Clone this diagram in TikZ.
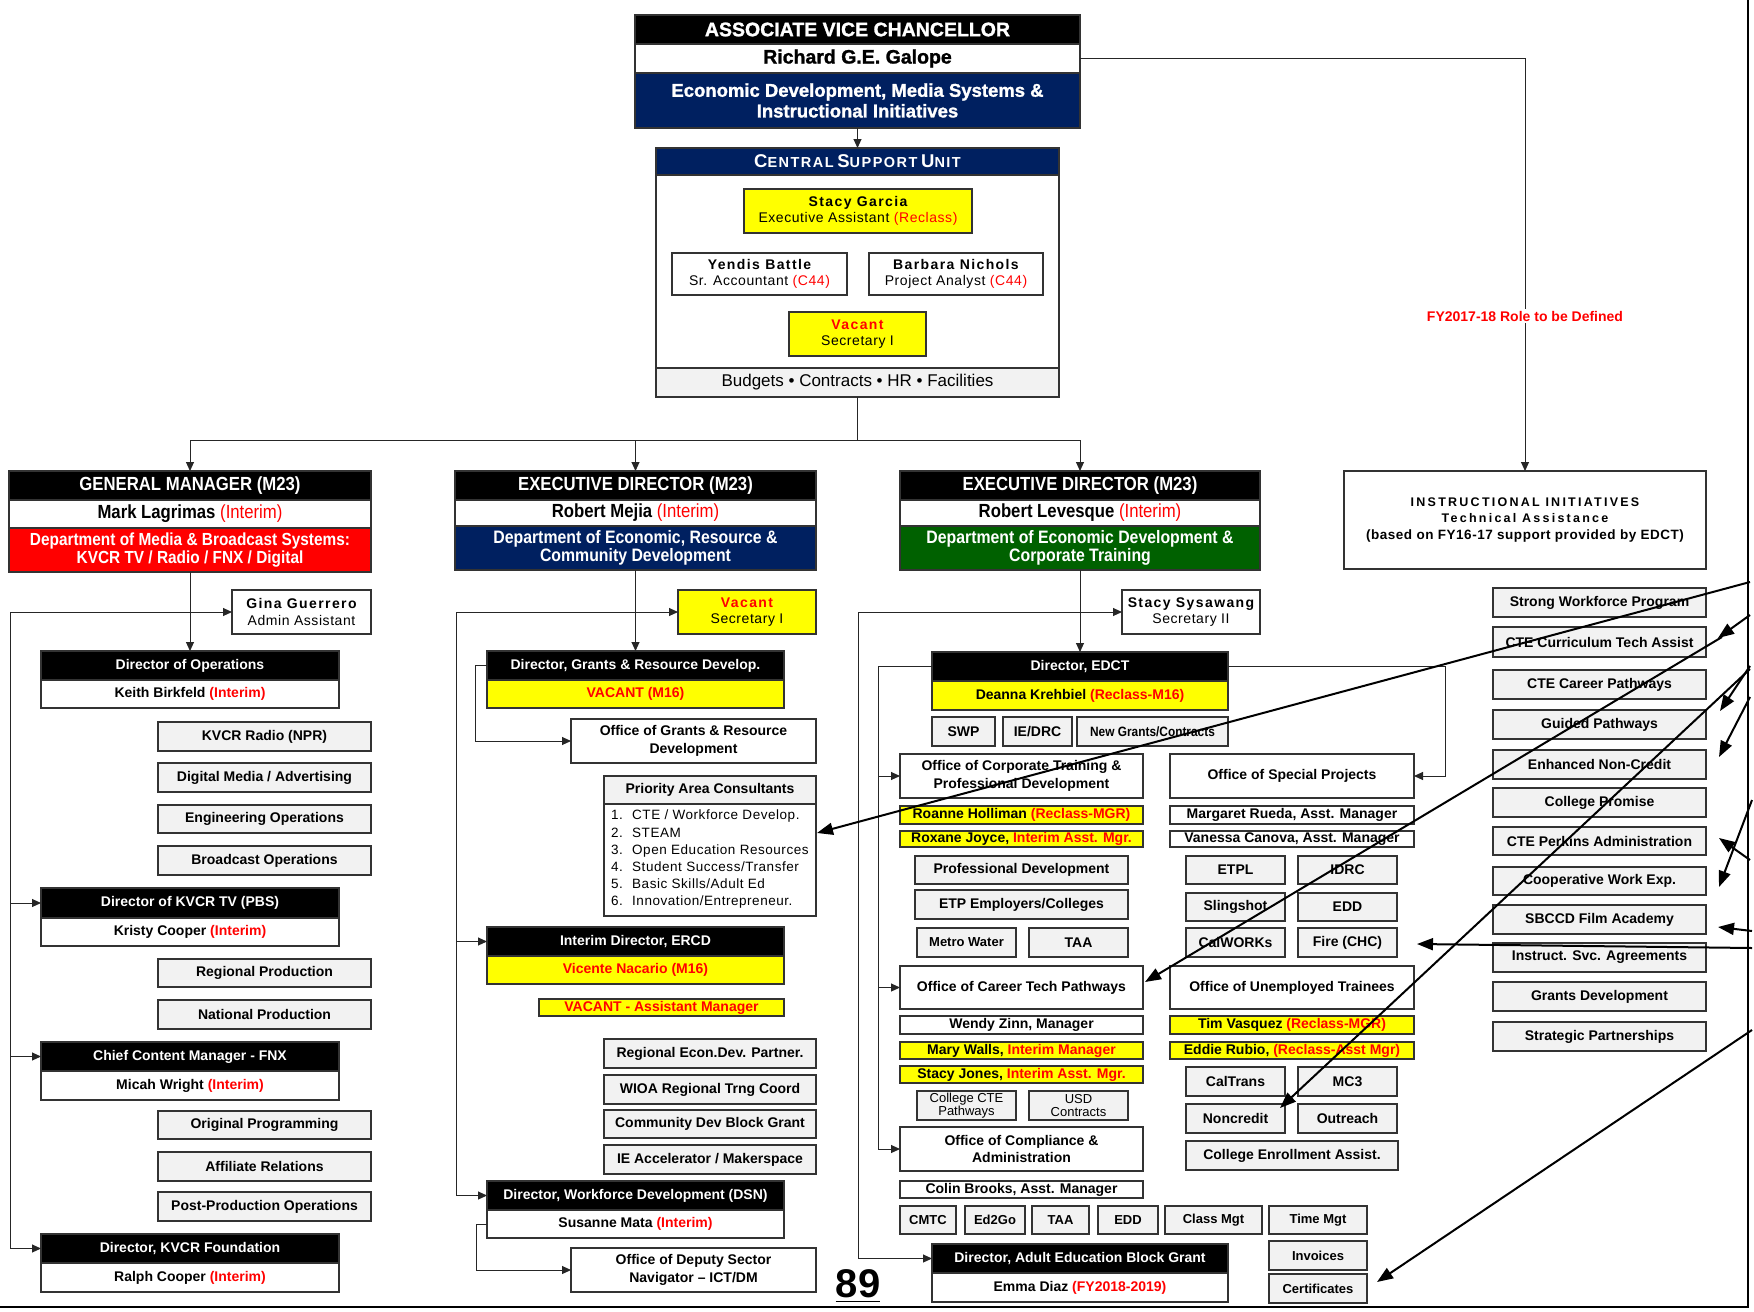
\documentclass[tikz,border=0pt]{standalone}
\usepackage{fontspec}
\setmainfont{Liberation Sans}
\newfontfamily\narf[FakeStretch=0.88]{Liberation Sans}
\newfontfamily\wsp[LetterSpace=18]{Liberation Sans}
\newfontfamily\nsp[LetterSpace=10]{Liberation Sans}
\newfontfamily\tsp[LetterSpace=4]{Liberation Sans}
\newfontfamily\hvy[FakeBold=1.3]{Liberation Sans Bold}
\usetikzlibrary{arrows.meta}
\definecolor{navy}{RGB}{0,32,96}
\definecolor{dgreen}{RGB}{0,97,0}
\definecolor{gfill}{RGB}{242,242,242}
\definecolor{ylw}{RGB}{255,255,0}
\definecolor{rred}{RGB}{255,0,0}
\newcommand\redx[1]{\textcolor{rred}{#1}}
\newcommand\obox[7]{%
 \pgfmathsetmacro\obw{#5-#3}\pgfmathsetmacro\obh{#6-#4}%
 \pgfmathsetmacro\obx{(#3+#5)/2}\pgfmathsetmacro\oby{(#4+#6)/2}%
 \node[#1, minimum width=\obw pt, minimum height=\obh pt] (#2) at (\obx,\oby) {#7};}
\newcommand\scx[2]{{\fontsize{18.5}{20}\selectfont #1}{\fontsize{14.5}{20}\selectfont #2}}
\tikzset{
 bx/.style={draw=black!80, line width=1.1pt, inner sep=0pt, outer sep=0pt, align=center, text=black},
 blk/.style={bx, fill=black, text=white},
 wht/.style={bx, fill=white},
 ylb/.style={bx, fill=ylw},
 gry/.style={bx, fill=gfill},
 nvy/.style={bx, fill=navy, text=white},
 rdb/.style={bx, fill=rred, text=white},
 grn/.style={bx, fill=dgreen, text=white},
 f14/.style={font=\fontsize{14}{17.5}\selectfont\bfseries},
 f13/.style={font=\fontsize{13}{15}\selectfont\bfseries},
 topf/.style={font=\narf\fontsize{19}{20}\selectfont\bfseries},
 deptf/.style={font=\narf\fontsize{18}{18}\selectfont\bfseries},
 cssf/.style={font=\fontsize{14}{16.7}\selectfont},
 conn/.style={draw=black!85, line width=1pt},
 arr/.style={conn, -{Triangle[length=9pt,width=8pt]}},
 dia/.style={draw=black, line width=2pt, -{Triangle[length=16pt,width=12pt]}},
}
\begin{document}
\begin{tikzpicture}[x=1pt,y=-1pt]
\useasboundingbox[fill=white] (0,0) rectangle (1754,1312);
% ---------- top ----------
\obox{blk,font=\hvy\fontsize{19.5}{21}\selectfont}{avc}{635}{15}{1080}{44}{ASSOCIATE VICE CHANCELLOR}
\obox{wht,font=\hvy\fontsize{19.5}{21}\selectfont}{avcn}{635}{44}{1080}{73}{Richard G.E. Galope}
\obox{nvy,font=\hvy\fontsize{18.5}{20.7}\selectfont}{avcd}{635}{73}{1080}{128}{Economic Development, Media Systems \&\\Instructional Initiatives}
% central support unit
\obox{wht}{csu}{656}{148}{1059}{397}{}
\obox{nvy,font=\nsp\bfseries}{csuh}{656}{148}{1059}{175}{\scx{C}{ENTRAL} \scx{S}{UPPORT} \scx{U}{NIT}}
\obox{gry,font=\fontsize{17}{18}\selectfont}{csuf}{656}{368}{1059}{397}{Budgets • Contracts • HR • Facilities}
\obox{ylb,cssf}{sg}{744}{189}{972}{233}{{\nsp\bfseries Stacy Garcia}\\{\tsp Executive Assistant  \redx{(Reclass)}}}
\obox{wht,cssf}{yb}{672}{253}{847}{295}{{\nsp\bfseries Yendis Battle}\\{\tsp Sr. Accountant  \redx{(C44)}}}
\obox{wht,cssf}{bn}{869}{253}{1043}{295}{{\nsp\bfseries Barbara Nichols}\\{\tsp Project Analyst  \redx{(C44)}}}
\obox{ylb,cssf}{vs1}{789}{312}{926}{356}{{\nsp\bfseries\redx{Vacant}}\\{\tsp Secretary I}}
% ---------- left column ----------
\obox{blk,topf}{gmh}{9}{471}{371}{500}{GENERAL MANAGER (M23)}
\obox{wht,topf}{gmn}{9}{500}{371}{528}{Mark Lagrimas \redx{\mdseries(Interim)}}
\obox{rdb,font=\narf\fontsize{17.5}{17.3}\selectfont\bfseries}{gmd}{9}{528}{371}{572}{Department of Media \& Broadcast Systems:\\KVCR TV / Radio / FNX / Digital}
\obox{wht,cssf}{gina}{232}{590}{371}{634}{{\nsp\bfseries Gina Guerrero}\\{\tsp Admin Assistant}}
\obox{blk,f14}{dopsh}{41}{651}{339}{680}{Director of Operations}
\obox{wht,f14}{dopsn}{41}{680}{339}{708}{Keith Birkfeld \redx{(Interim)}}
\obox{gry,f14}{l1}{158}{722}{371}{751}{KVCR Radio (NPR)}
\obox{gry,f14}{l2}{158}{763}{371}{792}{Digital Media / Advertising}
\obox{gry,f14}{l3}{158}{805}{371}{833}{Engineering Operations}
\obox{gry,f14}{l4}{158}{846}{371}{875}{Broadcast Operations}
\obox{blk,f14}{tvh}{41}{888}{339}{918}{Director of KVCR TV (PBS)}
\obox{wht,f14}{tvn}{41}{918}{339}{946}{Kristy Cooper \redx{(Interim)}}
\obox{gry,f14}{l5}{158}{959}{371}{987}{Regional Production}
\obox{gry,f14}{l6}{158}{1000}{371}{1029}{National Production}
\obox{blk,f14}{fnxh}{41}{1042}{339}{1071}{Chief Content Manager - FNX}
\obox{wht,f14}{fnxn}{41}{1071}{339}{1100}{Micah Wright \redx{(Interim)}}
\obox{gry,f14}{l7}{158}{1111}{371}{1139}{Original Programming}
\obox{gry,f14}{l8}{158}{1152}{371}{1181}{Affiliate Relations}
\obox{gry,f14}{l9}{158}{1192}{371}{1221}{Post-Production Operations}
\obox{blk,f14}{fdh}{41}{1234}{339}{1263}{Director, KVCR Foundation}
\obox{wht,f14}{fdn}{41}{1263}{339}{1292}{Ralph Cooper \redx{(Interim)}}
% ---------- middle column ----------
\obox{blk,topf}{edmh}{455}{471}{816}{500}{EXECUTIVE DIRECTOR (M23)}
\obox{wht,topf}{edmn}{455}{500}{816}{526}{Robert Mejia \redx{\mdseries(Interim)}}
\obox{nvy,deptf}{edmd}{455}{526}{816}{570}{Department of Economic, Resource \&\\Community Development}
\obox{ylb,cssf}{vsm}{678}{590}{816}{634}{{\nsp\bfseries\redx{Vacant}}\\{\tsp Secretary I}}
\obox{blk,f14}{dgh}{487}{651}{784}{680}{Director, Grants \& Resource Develop.}
\obox{ylb,f14}{dgn}{487}{680}{784}{708}{\redx{VACANT  (M16)}}
\obox{wht,f14}{ogr}{571}{719}{816}{763}{Office of Grants \& Resource\\Development}
\obox{wht}{pac}{604}{776}{816}{916}{}
\obox{gry,f14}{pach}{604}{776}{816}{804}{Priority Area Consultants}
\node[anchor=north west, inner sep=0pt, align=left, font=\tsp\fontsize{13.5}{17.2}\selectfont] (pacl) at (611,810)
 {\makebox[21pt][l]{1.}CTE / Workforce Develop.\\\makebox[21pt][l]{2.}STEAM\\\makebox[21pt][l]{3.}Open Education Resources\\\makebox[21pt][l]{4.}Student Success/Transfer\\\makebox[21pt][l]{5.}Basic Skills/Adult Ed\\\makebox[21pt][l]{6.}Innovation/Entrepreneur.};
\obox{blk,f14}{ercdh}{487}{927}{784}{956}{Interim Director, ERCD}
\obox{ylb,f14}{ercdn}{487}{956}{784}{984}{\redx{Vicente Nacario (M16)}}
\obox{ylb,f14}{vam}{539}{999}{784}{1016}{\redx{VACANT - Assistant Manager}}
\obox{gry,f14}{m1}{604}{1039}{816}{1068}{Regional Econ.Dev. Partner.}
\obox{gry,f14}{m2}{604}{1075}{816}{1104}{WIOA Regional Trng Coord}
\obox{gry,f14}{m3}{604}{1110}{816}{1138}{Community Dev Block Grant}
\obox{gry,f14}{m4}{604}{1145}{816}{1174}{IE Accelerator / Makerspace}
\obox{blk,f14}{wfh}{487}{1181}{784}{1210}{Director, Workforce Development (DSN)}
\obox{wht,f14}{wfn}{487}{1210}{784}{1238}{Susanne Mata  \redx{(Interim)}}
\obox{wht,f14}{odsn}{571}{1248}{816}{1292}{Office of Deputy Sector\\Navigator – ICT/DM}
\node[inner sep=0pt, font=\fontsize{40}{40}\selectfont\bfseries] (pg) at (858,1284) {89};
\draw[line width=1.3pt] ([yshift=-3pt]pg.south west) -- ([yshift=-3pt]pg.south east);
% ---------- right-center column ----------
\obox{blk,topf}{ed2h}{900}{471}{1260}{500}{EXECUTIVE DIRECTOR (M23)}
\obox{wht,topf}{ed2n}{900}{500}{1260}{526}{Robert Levesque \redx{\mdseries(Interim)}}
\obox{grn,deptf}{ed2d}{900}{526}{1260}{570}{Department of Economic Development \&\\Corporate Training}
\obox{wht,cssf}{sys}{1122}{590}{1260}{634}{{\nsp\bfseries Stacy Sysawang}\\{\tsp Secretary II}}
\obox{blk,f14}{edcth}{932}{652}{1228}{681}{Director, EDCT}
\obox{ylb,f14}{edctn}{932}{681}{1228}{710}{Deanna Krehbiel  \redx{(Reclass-M16)}}
\obox{gry,f14}{swp}{932}{717}{995}{746}{SWP}
\obox{gry,f14}{iedrc}{1003}{717}{1072}{746}{IE/DRC}
\obox{gry,font=\narf\fontsize{13.5}{15}\selectfont\bfseries}{ngc}{1077}{717}{1228}{746}{New Grants/Contracts}
\obox{wht,f14}{oct}{900}{754}{1143}{798}{Office of Corporate Training \&\\Professional Development}
\obox{wht,f14}{osp}{1170}{754}{1414}{798}{Office of Special Projects}
\obox{ylb,f14}{roan}{900}{806}{1143}{824}{Roanne Holliman  \redx{(Reclass-MGR)}}
\obox{ylb,f14}{roxa}{900}{831}{1143}{847}{Roxane Joyce, \redx{Interim Asst. Mgr.}}
\obox{wht,f14}{marg}{1170}{806}{1414}{824}{Margaret Rueda, Asst. Manager}
\obox{wht,f14}{vane}{1170}{831}{1414}{847}{Vanessa Canova, Asst. Manager}
\obox{gry,f14}{pdv}{915}{856}{1128}{884}{Professional Development}
\obox{gry,f14}{etp}{915}{890}{1128}{919}{ETP Employers/Colleges}
\obox{gry,f13}{mwt}{917}{928}{1016}{957}{Metro Water}
\obox{gry,f14}{taa1}{1029}{928}{1128}{957}{TAA}
\obox{gry,f14}{etpl}{1186}{856}{1285}{884}{ETPL}
\obox{gry,f14}{idrc}{1298}{856}{1397}{884}{IDRC}
\obox{gry,f14}{slg}{1186}{893}{1285}{921}{Slingshot}
\obox{gry,f14}{edd1}{1298}{893}{1397}{921}{EDD}
\obox{gry,f14}{calw}{1186}{928}{1285}{957}{CalWORKs}
\obox{gry,f14}{fire}{1298}{928}{1397}{957}{Fire (CHC)}
\obox{wht,f14}{ocp}{900}{966}{1143}{1009}{Office of Career Tech Pathways}
\obox{wht,f14}{out}{1170}{966}{1414}{1009}{Office of Unemployed Trainees}
\obox{wht,f14}{wz}{900}{1016}{1143}{1034}{Wendy Zinn, Manager}
\obox{ylb,f14}{mw}{900}{1042}{1143}{1059}{Mary Walls, \redx{Interim Manager}}
\obox{ylb,f14}{sj}{900}{1066}{1143}{1083}{Stacy Jones, \redx{Interim Asst. Mgr.}}
\obox{ylb,f14}{tv}{1170}{1016}{1414}{1034}{Tim Vasquez  \redx{(Reclass-MGR)}}
\obox{ylb,f14}{er}{1170}{1042}{1414}{1059}{Eddie Rubio, \redx{(Reclass-Asst Mgr)}}
\obox{gry,font=\fontsize{13}{13.5}\selectfont}{ccte}{917}{1091}{1016}{1120}{College CTE\\Pathways}
\obox{gry,font=\fontsize{13}{13.5}\selectfont}{usd}{1029}{1091}{1128}{1120}{USD\\Contracts}
\obox{gry,f14}{calt}{1186}{1067}{1285}{1096}{CalTrans}
\obox{gry,f14}{mc3}{1298}{1067}{1397}{1096}{MC3}
\obox{gry,f14}{ncr}{1186}{1104}{1285}{1133}{Noncredit}
\obox{gry,f14}{outr}{1298}{1104}{1397}{1133}{Outreach}
\obox{gry,f14}{cea}{1186}{1141}{1398}{1170}{College Enrollment Assist.}
\obox{wht,f14}{cmp}{900}{1127}{1143}{1171}{Office of Compliance \&\\Administration}
\obox{wht,f14}{cb}{900}{1181}{1143}{1198}{Colin Brooks, Asst. Manager}
\obox{gry,f13}{cmtc}{900}{1206}{956}{1234}{CMTC}
\obox{gry,f13}{ed2go}{965}{1206}{1025}{1234}{Ed2Go}
\obox{gry,f13}{taa2}{1032}{1206}{1089}{1234}{TAA}
\obox{gry,f13}{edd2}{1098}{1206}{1158}{1234}{EDD}
\obox{gry,f13}{clm}{1165}{1206}{1262}{1234}{Class Mgt}
\obox{gry,f13}{tmm}{1269}{1206}{1367}{1234}{Time Mgt}
\obox{gry,f13}{inv}{1269}{1241}{1367}{1270}{Invoices}
\obox{gry,f13}{cert}{1269}{1274}{1367}{1303}{Certificates}
\obox{blk,f14}{aebh}{932}{1244}{1228}{1273}{Director, Adult Education Block Grant}
\obox{wht,f14}{aebn}{932}{1273}{1228}{1302}{Emma Diaz \redx{(FY2018-2019)}}
% ---------- right column ----------
\obox{wht,font=\fontsize{12.5}{16.5}\selectfont\bfseries}{ii}{1344}{471}{1706}{569}{{\wsp INSTRUCTIONAL INITIATIVES}\\{\wsp Technical Assistance}\\{\tsp\fontsize{13.5}{16.5}\selectfont (based on FY16-17 support provided by EDCT)}}
\obox{gry,f14}{r1}{1493}{588}{1706}{617}{Strong Workforce Program}
\obox{gry,f14}{r2}{1493}{627}{1706}{657}{CTE Curriculum Tech Assist}
\obox{gry,f14}{r3}{1493}{670}{1706}{699}{CTE Career Pathways}
\obox{gry,f14}{r4}{1493}{710}{1706}{739}{Guided Pathways}
\obox{gry,f14}{r5}{1493}{750}{1706}{779}{Enhanced Non-Credit}
\obox{gry,f14}{r6}{1493}{788}{1706}{817}{College Promise}
\obox{gry,f14}{r7}{1493}{827}{1706}{855}{CTE Perkins Administration}
\obox{gry,f14}{r8}{1493}{867}{1706}{895}{Cooperative Work Exp.}
\obox{gry,f14}{r9}{1493}{905}{1706}{934}{SBCCD Film Academy}
\obox{gry,f14}{r10}{1493}{943}{1706}{972}{Instruct. Svc. Agreements}
\obox{gry,f14}{r11}{1493}{982}{1706}{1011}{Grants Development}
\obox{gry,f14}{r12}{1493}{1022}{1706}{1051}{Strategic Partnerships}
% ---------- connectors ----------
\draw[arr] (avcd.south) -- (csuh.north);
\coordinate (bus) at (857.5,440);
\draw[conn] (csuf.south) -- (bus);
\draw[conn] (gmh.north |- bus) -- (ed2h.north |- bus);
\draw[arr] (gmh.north |- bus) -- (gmh.north);
\draw[arr] (edmh.north |- bus) -- (edmh.north);
\draw[arr] (ed2h.north |- bus) -- (ed2h.north);
\draw[arr] (avcn.east) -| (ii.north);
\node[fill=white, inner sep=2pt, text=rred, font=\fontsize{14}{15}\selectfont\bfseries] (fylab) at (1525,316) {FY2017-18 Role to be Defined};
% left
\draw[arr] (gmd.south) -- (dopsh.north);
\coordinate (lt) at (10,612);
\draw[arr] (lt) -- (gina.west);
\draw[conn] (lt) -- (lt |- fdh.west);
\draw[arr] (lt |- tvh.west) -- (tvh.west);
\draw[arr] (lt |- fnxh.west) -- (fnxh.west);
\draw[arr] (lt |- fdh.west) -- (fdh.west);
% middle
\draw[arr] (edmd.south) -- (dgh.north);
\coordinate (mt) at (456,612);
\draw[arr] (mt) -- (vsm.west);
\draw[conn] (mt) -- (mt |- wfh.west);
\draw[arr] (mt |- ercdh.west) -- (ercdh.west);
\draw[arr] (mt |- wfh.west) -- (wfh.west);
\draw[arr] (dgh.west) -- ++(-12,0) |- (ogr.west);
\draw[arr] (wfn.west) -- ++(-11,0) |- (odsn.west);
% right-center
\draw[arr] (ed2d.south) -- (edcth.north);
\coordinate (rt) at (858,612);
\draw[arr] (rt) -- (sys.west);
\draw[conn] (rt) -- (rt |- aebh.west);
\draw[arr] (rt |- aebh.west) -- (aebh.west);
\coordinate (ri) at (878,666.5);
\draw[conn] (edcth.west) -- (ri) -- (ri |- cmp.west);
\draw[arr] (ri |- oct.west) -- (oct.west);
\draw[arr] (ri |- ocp.west) -- (ocp.west);
\draw[arr] (ri |- cmp.west) -- (cmp.west);
\coordinate (spx) at (1445,666.5);
\draw[arr] (edcth.east) -- (spx) |- (osp.east);
% page frame
\draw[line width=2.4pt] (1748,0) -- (1748,1307) -- (0,1307);
% diagonal arrows
\coordinate (sA) at (1750,582); \coordinate (tA) at (817,833);
\coordinate (sB) at (1750,615); \coordinate (tB) at (1718,638);
\coordinate (sK) at (1722,637); \coordinate (tK) at (1145,982);
\coordinate (sC) at (1750,666); \coordinate (tC) at (1720,711);
\coordinate (sN) at (1750,669); \coordinate (tN) at (1280,1108);
\coordinate (sD) at (1750,697); \coordinate (tD) at (1719,757);
\coordinate (sE) at (1750,860); \coordinate (tE) at (1719,838);
\coordinate (sF) at (1752,800); \coordinate (tF) at (1719,887);
\coordinate (sG) at (1752,931); \coordinate (tG) at (1718,927);
\coordinate (sH) at (1752,948); \coordinate (tH) at (1417,944);
\coordinate (sI) at (1752,1030); \coordinate (tI) at (1377,1282);
\foreach \k in {A,B,K,C,N,D,E,F,G,H,I} {\draw[dia] (s\k) -- (t\k);}
\end{tikzpicture}
\end{document}
